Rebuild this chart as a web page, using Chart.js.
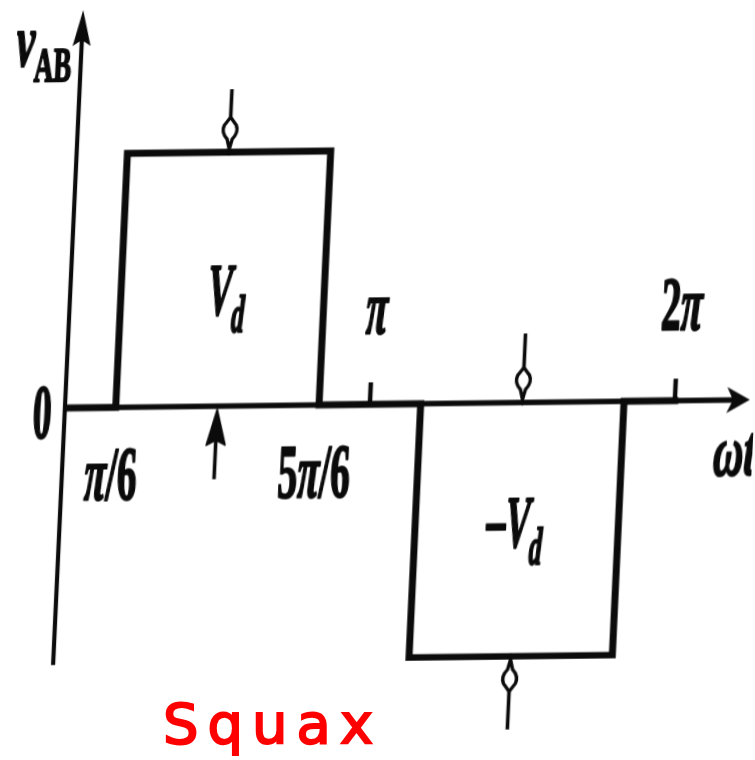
<!DOCTYPE html>
<html>
<head>
<meta charset="utf-8">
<script src="https://cdn.jsdelivr.net/npm/chart.js@4.4.1/dist/chart.umd.min.js"></script>
<style>
  html, body { margin: 0; padding: 0; background: #fff; overflow: hidden; }
  #wrap { position: absolute; left: 0; top: 0; width: 755px; height: 760px; }
  /* slight shear and softness of a scanned textbook figure */
  #c { display: block; transform-origin: 65px 405px; transform: matrix(1, -0.012, -0.046, 1, 0, 0); filter: blur(0.6px); }
  #note { position: absolute; left: 163px; top: 691px; color: #f00; font: 56px "DejaVu Sans", sans-serif;
          letter-spacing: 9px; -webkit-text-stroke: 2px #f00; white-space: nowrap; }
</style>
</head>
<body>
<div id="wrap">
  <canvas id="c" width="755" height="760"></canvas>
  <div id="note">Squax</div>
</div>
<script>
// Quasi-square output voltage v_AB of a single-phase bridge, angles in multiples of π
const switchAngles = [1/6, 5/6, 7/6, 11/6];   // ωt/π where the output switches
const pulseLevels  = [1, -1];                  // pulse heights in units of V_d
const tickAngles   = [1/6, 5/6, 1, 2];
const tickLabels   = ['π/6', '5π/6', 'π', '2π'];
const pointerAngles = [1/2, 3/2];              // centres of the two pulses
const periodEnd = 2;                           // one period, 2π

// axis extents (ωt/π and v/V_d)
const xRange = [0, 2.246];
const yRange = [-1.012, 1.567];

// waveform points built from the switching angles and levels
const wave = [{ x: 0, y: 0 }];
pulseLevels.forEach((lvl, i) => {
  const a0 = switchAngles[2 * i], a1 = switchAngles[2 * i + 1];
  wave.push({ x: a0, y: 0 }, { x: a0, y: lvl }, { x: a1, y: lvl }, { x: a1, y: 0 });
});
wave.push({ x: periodEnd, y: 0 });

const INK = '#0b0b0b';
const FAMILY = '"Liberation Serif", "Times New Roman", serif';

function fontOf(s) { return (s.it ? 'italic ' : '') + 'bold ' + s.size + 'px ' + FAMILY; }
function richWidth(ctx, segs) {
  let w = 0;
  for (const s of segs) { ctx.font = fontOf(s); w += ctx.measureText(s.t).width; }
  return w;
}
// heavy, condensed lettering
function drawRich(ctx, segs, x, y, align, sx) {
  const w = richWidth(ctx, segs) * sx;
  const left = align === 'center' ? x - w / 2 : align === 'right' ? x - w : x;
  ctx.save();
  ctx.translate(left, y);
  ctx.scale(sx, 1);
  ctx.textAlign = 'left';
  ctx.textBaseline = 'alphabetic';
  ctx.fillStyle = INK;
  ctx.strokeStyle = INK;
  ctx.lineWidth = 2.2;
  ctx.lineJoin = 'round';
  let px = 0;
  for (const s of segs) {
    ctx.font = fontOf(s);
    ctx.fillText(s.t, px, s.dy || 0);
    ctx.strokeText(s.t, px, s.dy || 0);
    px += ctx.measureText(s.t).width;
  }
  ctx.restore();
}
function labelSegs(str, size) {
  const segs = [];
  for (const ch of str) segs.push({ t: ch, it: ch === 'π', size });
  return segs;
}

// small marker arrows pointing at the middle of each pulse
function drawPointer(ctx, x, yTip, dir, len, hollow) {
  // dir: -1 stem above the tip, +1 stem below the tip
  const hl = hollow ? 32 : 36, hw = hollow ? 7 : 9.5;
  ctx.save();
  ctx.strokeStyle = INK;
  ctx.lineWidth = 3.6;
  ctx.beginPath();
  ctx.moveTo(x, yTip + dir * (hl - 8));
  ctx.lineTo(x, yTip + dir * len);
  ctx.stroke();
  ctx.beginPath();
  if (hollow) {
    ctx.moveTo(x, yTip);
    ctx.lineTo(x + 2.5, yTip + dir * 10);
    ctx.quadraticCurveTo(x + hw + 2, yTip + dir * 17, x + hw - 1, yTip + dir * 24);
    ctx.lineTo(x, yTip + dir * hl);
    ctx.lineTo(x - hw + 1, yTip + dir * 24);
    ctx.quadraticCurveTo(x - hw - 2, yTip + dir * 17, x - 2.5, yTip + dir * 10);
    ctx.closePath();
    ctx.fillStyle = '#fff';
    ctx.fill();
    ctx.lineWidth = 3.4;
    ctx.stroke();
  } else {
    ctx.moveTo(x, yTip);
    ctx.lineTo(x + hw, yTip + dir * hl);
    ctx.lineTo(x + 2, yTip + dir * (hl - 4));
    ctx.lineTo(x - 2, yTip + dir * (hl - 4));
    ctx.lineTo(x - hw, yTip + dir * hl);
    ctx.closePath();
    ctx.fillStyle = INK;
    ctx.fill();
    ctx.lineWidth = 1.5;
    ctx.lineJoin = 'round';
    ctx.stroke();
  }
  ctx.restore();
}

const axesPlugin = {
  id: 'drawnAxes',
  beforeDatasetsDraw(chart) {
    const { ctx, scales: { x, y } } = chart;
    const x0 = x.getPixelForValue(0), y0 = y.getPixelForValue(0);
    const yTop = y.getPixelForValue(yRange[1]), yBot = y.getPixelForValue(yRange[0]);
    const xEnd = x.getPixelForValue(xRange[1]);
    ctx.save();
    ctx.strokeStyle = INK;
    ctx.fillStyle = INK;
    ctx.lineCap = 'butt';
    // vertical axis with arrow
    ctx.lineWidth = 4.2;
    ctx.beginPath(); ctx.moveTo(x0, yBot); ctx.lineTo(x0, yTop + 20); ctx.stroke();
    ctx.beginPath();
    ctx.moveTo(x0, yTop);
    ctx.lineTo(x0 + 9, yTop + 36);
    ctx.lineTo(x0, yTop + 30);
    ctx.lineTo(x0 - 9, yTop + 36);
    ctx.closePath(); ctx.fill();
    // horizontal axis with arrow
    ctx.lineWidth = 5.5;
    ctx.beginPath(); ctx.moveTo(x0 - 2, y0); ctx.lineTo(xEnd - 12, y0); ctx.stroke();
    ctx.beginPath();
    ctx.moveTo(xEnd, y0);
    ctx.lineTo(xEnd - 23, y0 - 13);
    ctx.lineTo(xEnd - 17, y0);
    ctx.lineTo(xEnd - 23, y0 + 13);
    ctx.closePath(); ctx.fill();
    // tick marks at π and 2π
    ctx.lineWidth = 4.5;
    tickAngles.forEach(a => {
      if (switchAngles.includes(a)) return;
      const px = x.getPixelForValue(a);
      ctx.beginPath(); ctx.moveTo(px, y0); ctx.lineTo(px, y0 - 22); ctx.stroke();
    });
    ctx.restore();
  },
  afterDatasetsDraw(chart) {
    const { ctx, scales: { x, y } } = chart;
    const x0 = x.getPixelForValue(0), y0 = y.getPixelForValue(0);
    const yHi = y.getPixelForValue(pulseLevels[0]), yLo = y.getPixelForValue(pulseLevels[1]);

    // pulse-centre markers
    const pA = x.getPixelForValue(pointerAngles[0]);
    const pB = x.getPixelForValue(pointerAngles[1]);
    drawPointer(ctx, pA, yHi - 3, -1, 60, true);
    drawPointer(ctx, pA, y0 + 3, 1, 70, false);
    drawPointer(ctx, pB, y0 - 3, -1, 66, true);
    drawPointer(ctx, pB, yLo + 3, 1, 70, true);

    // tick labels: switching angles below the axis, π and 2π above it
    tickAngles.forEach((a, i) => {
      const px = x.getPixelForValue(a);
      const below = switchAngles.includes(a);
      const dx = below ? -2 : 3;
      drawRich(ctx, labelSegs(tickLabels[i], 76), px + dx, below ? y0 + 92 : y0 - 71, 'center', 0.52);
    });

    // origin label
    drawRich(ctx, [{ t: '0', size: 78 }], x0 - 13, y0 + 30, 'right', 0.48);

    // axis titles
    drawRich(ctx, [{ t: 'v', it: true, size: 74 }, { t: 'AB', size: 48, dy: 16 }], 0, 65, 'left', 0.56);
    drawRich(ctx, [{ t: 'ω', it: true, size: 72 }, { t: 't', it: true, size: 72 }], 716, y0 + 75, 'left', 0.58);

    // pulse amplitude labels
    drawRich(ctx, [{ t: 'V', it: true, size: 74 }, { t: 'd', it: true, size: 52, dy: 17 }],
      pA + 4, y.getPixelForValue(0.36), 'center', 0.5);
    drawRich(ctx, [{ t: '–', size: 76, dy: -3 }, { t: 'V', it: true, size: 74 }, { t: 'd', it: true, size: 52, dy: 17 }],
      pB - 2, y.getPixelForValue(-0.57), 'center', 0.5);
  }
};

new Chart(document.getElementById('c'), {
  type: 'line',
  data: {
    datasets: [{
      data: wave,
      borderColor: INK,
      borderWidth: 7,
      pointRadius: 0,
      tension: 0,
      fill: false,
      borderJoinStyle: 'miter',
      borderCapStyle: 'square'
    }]
  },
  options: {
    responsive: false,
    devicePixelRatio: 1,
    animation: false,
    events: [],
    layout: { padding: { left: 65, right: 5, top: 10, bottom: 95 } },
    scales: {
      x: { type: 'linear', min: xRange[0], max: xRange[1], display: false },
      y: { type: 'linear', min: yRange[0], max: yRange[1], display: false }
    },
    plugins: { legend: { display: false }, tooltip: { enabled: false } }
  },
  plugins: [axesPlugin]
});
</script>
</body>
</html>
